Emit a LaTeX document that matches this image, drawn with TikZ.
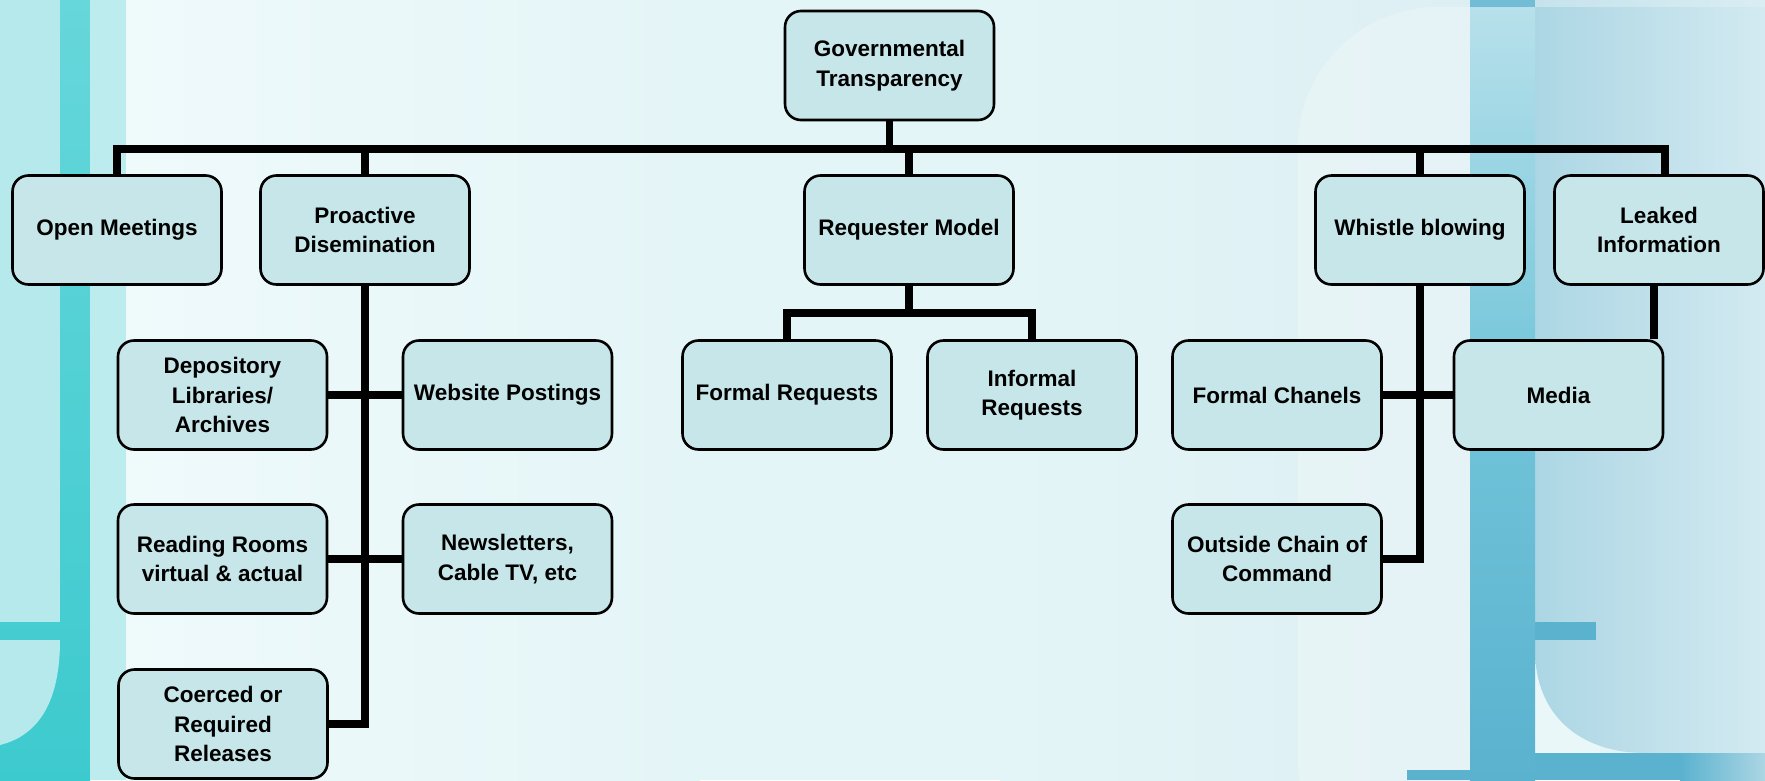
\documentclass[tikz,border=0pt]{standalone}
\usepackage{fontspec}
\setmainfont{Liberation Sans}
\usetikzlibrary{backgrounds,calc}
\definecolor{bgmain}{HTML}{E4F5F7}
\definecolor{bgwhite}{HTML}{EFFAFB}
\definecolor{bgright}{HTML}{DDEFF3}
\definecolor{boxfill}{HTML}{C6E6E9}
\definecolor{lteal}{HTML}{B6E9EC}
\definecolor{lteal2}{HTML}{BDECEE}
\definecolor{dtealtop}{HTML}{66D7DB}
\definecolor{dtealbot}{HTML}{3DCACE}
\definecolor{dbluetop}{HTML}{B8E1EB}
\definecolor{dbluemid}{HTML}{72C5D9}
\definecolor{dbluebot}{HTML}{5AB2CF}
\definecolor{lblue}{HTML}{ACD6E4}
\definecolor{lblue2}{HTML}{D3EAF1}
\begin{document}
\begin{tikzpicture}[x=1pt,y=-1pt,
  box/.style={draw=black, line width=2.6pt, fill=boxfill, rounded corners=16pt,
    minimum width=209pt, minimum height=109pt, align=center, inner sep=0pt,
    font=\fontsize{22.5}{29.5}\selectfont\bfseries},
  conn/.style={draw=black, line width=7.5pt}]
\useasboundingbox (0,0) rectangle (1765,780);

% nodes
\node[box] (gov) at (889.5,65.5) {Governmental\\Transparency};
\node[box] (open) at (117,230) {Open Meetings};
\node[box] (pro) at (365,230) {Proactive\\Disemination};
\node[box] (req) at (909,230) {Requester Model};
\node[box] (whi) at (1420,230) {Whistle blowing};
\node[box] (lea) at (1659,230) {Leaked\\Information};
\node[box] (dep) at (222.5,395) {Depository\\Libraries/\\Archives};
\node[box] (web) at (507.5,395) {Website Postings};
\node[box] (read) at (222.5,559) {Reading Rooms\\virtual \& actual};
\node[box] (news) at (507.5,559) {Newsletters,\\Cable TV, etc};
\node[box] (coe) at (223,724) {Coerced or\\Required\\Releases};
\node[box] (frq) at (787,395) {Formal Requests};
\node[box] (irq) at (1032,395) {Informal\\Requests};
\node[box] (fch) at (1277,395) {Formal Chanels};
\node[box] (med) at (1558.5,395) {Media};
\node[box] (occ) at (1277,559) {Outside Chain of\\Command};

\begin{scope}[on background layer]
  % background
  \fill[bgmain] (0,0) rectangle (1765,780);
  \shade[left color=bgwhite, right color=bgmain] (126,0) rectangle (700,780);
  \shade[left color=bgmain, right color=bgright] (1000,0) rectangle (1470,780);
  \fill[white, opacity=0.25, rounded corners=140pt] (1298,7) rectangle (1600,900);
  % left decoration
  \shade[top color=dtealtop, bottom color=dtealbot] (0,0) rectangle (90,780);
  \fill[lteal] (0,0) rectangle (60,622);
  \fill[lteal] (0,640) -- (60,640) .. controls (60,700) and (40,735) .. (0,745) -- cycle;
  \fill[lteal2] (90,0) rectangle (126,780);
  % right decoration
  \shade[left color=lblue, right color=lblue2]
     (1535,0) -- (1765,0) -- (1765,753) -- (1645,753)
     .. controls (1580,753) and (1535,715) .. (1535,650) -- cycle;
  \fill[lblue2!70!white, opacity=0.5] (1535,0) rectangle (1765,7);
  \shade[top color=dbluetop, bottom color=dbluebot, middle color=dbluemid] (1470,0) rectangle (1535,780);
  \fill[dbluebot] (1535,622) rectangle (1596,640);
  \fill[dbluebot] (1407,770) rectangle (1535,780);
  \shade[left color=dbluebot, right color=lblue] (1680,753) rectangle (1765,780);
  \fill[dbluebot] (1535,753) rectangle (1680,780);
  \fill[dbluebot!70!lblue] (1470,0) rectangle (1535,7);

  % connectors
  \coordinate (bus) at (889.5,149);
  \coordinate (sub) at (909,313);
  \draw[conn] (gov.south) -- (gov.south |- bus);
  \draw[conn] (open.north) -- (open.north |- bus) -- ([xshift=6pt]lea.north |- bus) -- ([xshift=6pt]lea.north);
  \draw[conn] (pro.north) -- (pro.north |- bus);
  \draw[conn] (req.north) -- (req.north |- bus);
  \draw[conn] (whi.north) -- (whi.north |- bus);
  \draw[conn] (pro.south) |- (coe.east);
  \draw[conn] (dep.east) -- (web.west);
  \draw[conn] (read.east) -- (news.west);
  \draw[conn] (req.south) -- (sub);
  \draw[conn] (frq.north) |- (sub) -| (irq.north);
  \draw[conn] (whi.south) |- (occ.east);
  \draw[conn] (fch.east) -- (med.west);
  \draw[conn] ([xshift=-5pt]lea.south) -- ([xshift=-5pt]lea.south |- med.north);
\end{scope}
\end{tikzpicture}
\end{document}
